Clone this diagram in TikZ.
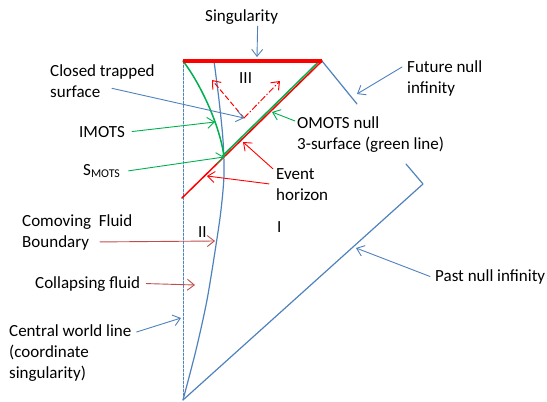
\documentclass[tikz,border=0pt]{standalone}
\usepackage{fontspec}
\setmainfont{Carlito}
\usetikzlibrary{arrows.meta}
\definecolor{qqppzz}{rgb}{0.31,0.51,0.74}
\definecolor{qqzzqq}{rgb}{0,0.69,0.31}
\definecolor{ffqqqq}{rgb}{1,0,0}
\definecolor{ccppqq}{rgb}{0.75,0.31,0.30}

\begin{document}
\begin{tikzpicture}[line cap=round,line join=round,
  >={Straight Barb[length=7pt,width=11pt]},x=1pt,y=-1pt,
  lbl/.style={anchor=base west,align=left,inner sep=0pt,
    font=\fontsize{17}{21}\selectfont},
  pnt/.style={->,line width=0.9pt}]
  \useasboundingbox (0,0) rectangle (547,402);
  % corners and points of the diagram
  \coordinate (sl) at (183,61); \coordinate (sr) at (322,61);
  \coordinate (pinf) at (423,184); \coordinate (o) at (183,400);
  \coordinate (eh) at (182,198); \coordinate (smots) at (224,157);
  \coordinate (trap) at (244,118); \coordinate (tl) at (212,80);
  \coordinate (tr) at (280,81); \coordinate (fa) at (357,104);
  \coordinate (fb) at (406,164);
  % arrow tips
  \coordinate (ssing) at (257,57); \coordinate (sfni) at (357,94);
  \coordinate (simots) at (215,122); \coordinate (somots) at (272,112);
  \coordinate (seha) at (243,142); \coordinate (sehb) at (207,176);
  \coordinate (sfluid) at (215,241); \coordinate (scoll) at (195,285);
  \coordinate (scwl) at (181,318); \coordinate (spni) at (356,248);
  % lines
  \draw [color=qqppzz,line width=1pt,dash pattern=on 2.5pt off 1.5pt] (sl) -- (o);
  \draw [color=qqppzz,line width=1.2pt] (sr) -- (fa);
  \draw [color=qqppzz,line width=1.2pt] (fb) -- (pinf) -- (o);
  \draw [color=qqppzz,line width=1.2pt] plot[smooth] coordinates {(214,61) (219,100)
    (223,140) (224,175) (221,210) (216,245) (207,300) (196,350) (o)};
  \draw [color=ffqqqq,line width=1.5pt] (sr) -- (eh);
  \draw [color=qqzzqq,line width=1.5pt] ([shift={(-1.3pt,1.3pt)}]sr) -- ([shift={(-1.3pt,1.3pt)}]smots);
  \draw [color=qqzzqq,line width=1.5pt] (sl) .. controls (200,83) and (220,125) .. (smots);
  \draw [color=ffqqqq,line width=3.5pt,line cap=butt] (sl) -- (sr);
  \draw [->,color=ffqqqq,line width=1pt,dash pattern=on 5pt off 3pt] (trap) -- (tl);
  \draw [->,color=ffqqqq,line width=1pt,dash pattern=on 6pt off 2.5pt on 1pt off 2.5pt] (trap) -- (tr);
  % labels
  \node [lbl] (sing) at (205,21) {Singularity};
  \node [lbl] (fni) at (407,93) {Future null\\infinity};
  \node [lbl] (cts) at (50,97) {Closed trapped\\surface};
  \node [lbl] (imots) at (79,137) {IMOTS};
  \node [lbl] (smt) at (83,175) {S\textsubscript{MOTS}};
  \node [lbl] (omots) at (297,149) {OMOTS null\\3-surface (green line)};
  \node [lbl] (evh) at (276,200) {Event\\horizon};
  \node [lbl] (fluid) at (22,247) {Comoving\ \ Fluid\\Boundary};
  \node [lbl] (coll) at (35,288) {Collapsing fluid};
  \node [lbl] (cwl) at (9,378) {Central world line\\(coordinate\\singularity)};
  \node [lbl] (pni) at (435,281) {Past null infinity};
  \node [lbl] (rIII) at (239,83) {III};
  \node [lbl] (rII) at (198,237) {II};
  \node [lbl] (rI) at (277,232) {I};
  % pointers
  \draw [pnt,color=qqppzz] ([shift={(16pt,-2pt)}]sing.south) -- (ssing);
  \draw [pnt,color=qqppzz] ([shift={(-5pt,-7pt)}]fni.north west) -- (sfni);
  \draw [pnt,color=qqppzz] ([shift={(62pt,9pt)}]cts.south west) -- (trap);
  \draw [pnt,color=qqzzqq] ([xshift=7pt]imots.east) -- (simots);
  \draw [pnt,color=qqzzqq] ([xshift=8pt]smt.east) -- (smots);
  \draw [pnt,color=qqzzqq] ([shift={(-2pt,-5pt)}]omots.north west) -- (somots);
  \draw [pnt,color=ffqqqq] ([shift={(-3pt,-1pt)}]evh.north west) -- (seha);
  \draw [pnt,color=ffqqqq] ([shift={(-7pt,-16pt)}]evh.north west) -- (sehb);
  \draw [pnt,color=ccppqq] ([shift={(78pt,8pt)}]fluid.south west) -- (sfluid);
  \draw [pnt,color=ccppqq] ([xshift=6pt]coll.east) -- (scoll);
  \draw [pnt,color=qqppzz] ([shift={(5pt,-8pt)}]cwl.north east) -- (scwl);
  \draw [pnt,color=qqppzz] ([xshift=-5pt]pni.west) -- (spni);
\end{tikzpicture}
\end{document}
